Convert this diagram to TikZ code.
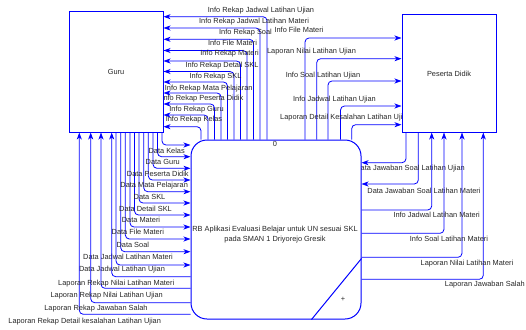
\documentclass[tikz,border=0pt]{standalone}
\usepackage{fontspec}
\setmainfont{Liberation Sans}
\usetikzlibrary{arrows.meta,backgrounds}
\tikzset{
	flow/.style={draw=blue,line width=0.8pt,rounded corners=4pt,-{Stealth[length=7pt,width=5pt,inset=2pt]}},
	entity/.style={rectangle,draw=blue,fill=white,line width=1pt,minimum width=94pt,minimum height=120pt},
	process/.style={rectangle,rounded corners=16pt,draw=blue,fill=white,line width=1pt,minimum width=170pt,minimum height=179pt}
}
\begin{document}
\begin{tikzpicture}[x=1pt,y=-1pt,every node/.style={font=\fontsize{7.4}{10}\selectfont,text=black!85,inner sep=0pt}]
	\useasboundingbox (0,0) rectangle (526,329);
	
	\node[entity] (guru) at (116,72) {Guru};
	\node[entity,minimum height=117pt] (peserta) at (449,73.5) {Peserta Didik};
	\node[process] (proc) at (276,229.5) {};
	\node[align=center] (procText) at (275,234.3) {RB Aplikasi Evaluasi Belajar untuk UN sesuai SKL\\pada SMAN 1 Driyorejo Gresik};
	\node (procNum) at (275,143.5) {0};
	\draw[blue,line width=1pt] ([xshift=-50pt]proc.south east) -- ([yshift=61pt]proc.south east);
	\node (procPlus) at (343,299) {+};
	
	\begin{scope}[on background layer]
		% process -> Guru
		\draw[flow] (proc.north -| 267,0) |- (guru.east |- 0,16.7);
		\draw[flow] (proc.north -| 260,0) |- (guru.east |- 0,28);
		\draw[flow] (proc.north -| 253.5,0) |- (guru.east |- 0,39.3);
		\draw[flow] (proc.north -| 247,0) |- (guru.east |- 0,50.5);
		\draw[flow] (proc.north -| 240.5,0) |- (guru.east |- 0,61);
		\draw[flow] (proc.north -| 234,0) |- (guru.east |- 0,71.5);
		\draw[flow] (proc.north -| 227.5,0) |- (guru.east |- 0,82);
		\draw[flow] (proc.north -| 221,0) |- (guru.east |- 0,93);
		\draw[flow] (proc.north -| 214.5,0) |- (guru.east |- 0,104);
		\draw[flow] (proc.north -| 208,0) |- (guru.east |- 0,115);
		\draw[flow] (proc.north -| 201,0) |- (guru.east |- 0,126.7);
		
		\node (infoRekapJadwalUjian) at (261,10.3) {Info Rekap Jadwal Latihan Ujian};
		\node (infoRekapJadwalMateri) at (254,21.7) {Info Rekap Jadwal Latihan Materi};
		\node (infoRekapSoal) at (245.5,33) {Info Rekap Soal};
		\node (infoFileMateriGuru) at (232.5,43.3) {Info File Materi};
		\node (infoRekapMateri) at (229.5,54) {Info Rekap Materi};
		\node (infoRekapDetailSkl) at (222,65.3) {Info Rekap Detail SKL};
		\node (infoRekapSkl) at (215.5,76.3) {Info Rekap SKL};
		\node[anchor=west] (infoRekapMapel) at (164.7,88.3) {Info Rekap Mata Pelajaran};
		\node[anchor=west] (infoRekapPeserta) at (161.3,98.7) {Info Rekap Peserta Didik};
		\node (infoRekapGuru) at (196.5,109.3) {Info Rekap Guru};
		\node (infoRekapKelas) at (194,120) {Info Rekap Kelas};
		
		% Guru -> process
		\draw[flow] (guru.south -| 162,0) |- (proc.west |- 0,145);
		\draw[flow] (guru.south -| 157.5,0) |- (proc.west |- 0,156.7);
		\draw[flow] (guru.south -| 153,0) |- (proc.west |- 0,168.3);
		\draw[flow] (guru.south -| 148.3,0) |- (proc.west |- 0,180);
		\draw[flow] (guru.south -| 143.7,0) |- (proc.west |- 0,191.7);
		\draw[flow] (guru.south -| 139,0) |- (proc.west |- 0,203);
		\draw[flow] (guru.south -| 134.5,0) |- (proc.west |- 0,215);
		\draw[flow] (guru.south -| 130,0) |- (proc.west |- 0,227);
		\draw[flow] (guru.south -| 125.3,0) |- (proc.west |- 0,239);
		\draw[flow] (guru.south -| 120.7,0) |- (proc.west |- 0,251.7);
		\draw[flow] (guru.south -| 116,0) |- (proc.west |- 0,265);
		
		\node (dataKelas) at (166.7,151.3) {Data Kelas};
		\node (dataGuru) at (162.8,162.3) {Data Guru};
		\node (dataPeserta) at (157.8,174.3) {Data Peserta Didik};
		\node (dataMapel) at (154.2,185.3) {Data Mata Pelajaran};
		\node (dataSkl) at (149.5,197.3) {Data SKL};
		\node (dataDetailSkl) at (145.5,209.3) {Data Detail SKL};
		\node (dataMateri) at (141,220) {Data Materi};
		\node (dataFileMateri) at (137.8,232) {Data File Materi};
		\node (dataSoal) at (132.8,245) {Data Soal};
		\node (dataJadwalMateri) at (128,257.3) {Data Jadwal Latihan Materi};
		\node (dataJadwalUjian) at (122,270) {Data Jadwal Latihan Ujian};
		
		% reports back to Guru
		\draw[flow] (proc.west |- 0,276.7) -| (guru.south -| 111.7,0);
		\draw[flow] (proc.west |- 0,288.3) -| (guru.south -| 101,0);
		\draw[flow] (proc.west |- 0,302.7) -| (guru.south -| 90.7,0);
		\draw[flow] (proc.west |- 0,314.3) -| (guru.south -| 79.3,0);
		
		\node (lapRekapNilaiMateri) at (116.2,283.3) {Laporan Rekap Nilai Latihan Materi};
		\node (lapRekapNilaiUjian) at (106.7,295.7) {Laporan Rekap Nilai Latihan Ujian};
		\node (lapRekapJawaban) at (96,308.3) {Laporan Rekap Jawaban Salah};
		\node (lapRekapDetail) at (84.7,321.7) {Laporan Rekap Detail kesalahan Latihan Ujian};
		
		% process -> Peserta Didik
		\draw[flow] (proc.north -| 305,0) |- (peserta.west |- 0,38);
		\draw[flow] (proc.north -| 316.7,0) |- (peserta.west |- 0,58.7);
		\draw[flow] (proc.north -| 328,0) |- (peserta.west |- 0,81);
		\draw[flow] (proc.north -| 340.5,0) |- (peserta.west |- 0,106);
		\draw[flow] (proc.north -| 351.7,0) |- (peserta.west |- 0,124.7);
		
		\node (infoFileMateri) at (299,30.3) {Info File Materi};
		\node (lapNilaiUjian) at (311.5,51.7) {Laporan Nilai Latihan Ujian};
		\node (infoSoalUjian) at (323,75.3) {Info Soal Latihan Ujian};
		\node (infoJadwalUjian) at (334.5,99.3) {Info Jadwal Latihan Ujian};
		\node[anchor=west] (lapDetailUjian) at (280,117.3) {Laporan Detail Kesalahan Latihan Ujian};
		
		% Peserta Didik -> process
		\draw[flow] (peserta.south -| 406,0) |- (proc.east |- 0,162.7);
		\draw[flow] (peserta.south -| 418.3,0) |- (proc.east |- 0,184);
		
		\node[anchor=east] (dataJawabanUjian) at (465,168.3) {Data Jawaban Soal Latihan Ujian};
		\node (dataJawabanMateri) at (424,190.7) {Data Jawaban Soal Latihan Materi};
		
		% process -> Peserta Didik (bottom)
		\draw[flow] (proc.east |- 0,210) -| (peserta.south -| 431.7,0);
		\draw[flow] (proc.east |- 0,233.3) -| (peserta.south -| 444,0);
		\draw[flow] (proc.east |- 0,257.3) -| (peserta.south -| 462,0);
		\draw[flow] (proc.east |- 0,279.3) -| (peserta.south -| 483.3,0);
		
		\node (infoJadwalMateri) at (436.7,215.3) {Info Jadwal Latihan Materi};
		\node (infoSoalMateri) at (449,239) {Info Soal Latihan Materi};
		\node (lapNilaiMateri) at (467,263.3) {Laporan Nilai Latihan Materi};
		\node[anchor=east] (lapJawabanSalah) at (525,285) {Laporan Jawaban Salah};
	\end{scope}
\end{tikzpicture}
\end{document}
